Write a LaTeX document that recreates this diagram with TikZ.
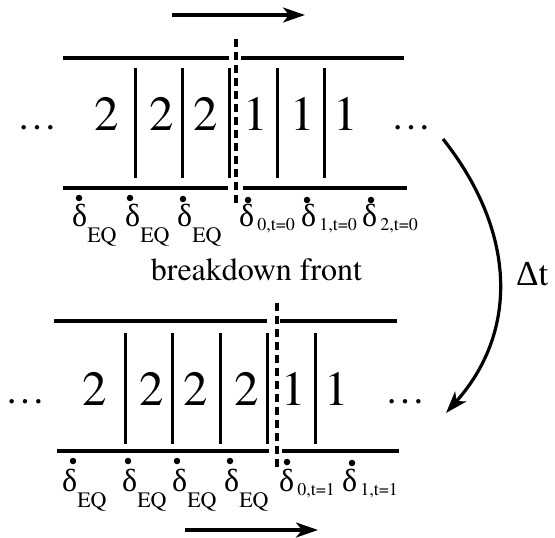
\documentclass[tikz,border=0pt]{standalone}
\usepackage{fontspec}
\setmainfont{TeX Gyre Termes}
\newfontfamily\tms{TeX Gyre Termes}
\newfontfamily\grk{Liberation Serif}
\usetikzlibrary{arrows.meta}
\begin{document}
\begin{tikzpicture}[x=1pt,y=-1pt,font=\tms,
  wall/.style={line width=3.2pt},
  sep/.style={line width=3pt},
  front/.style={line width=3.2pt,dash pattern=on 8pt off 5pt},
  mover/.style={line width=3.2pt,-{Stealth[length=22pt,width=15pt,inset=6pt]}},
  digit/.style={inner sep=0pt,anchor=base,font=\tms\fontsize{49}{49}\selectfont},
  ell/.style={inner sep=0pt,anchor=base,font=\tms\fontsize{40}{40}\selectfont},
  dlab/.style={inner sep=0pt,anchor=base west,font=\tms\fontsize{32}{32}\selectfont},
  bigtxt/.style={inner sep=0pt,font=\tms\fontsize{32}{32}\selectfont},
  dotm/.style={fill=black,draw=none,circle,inner sep=0pt,minimum size=6.5pt}
]
\useasboundingbox (0,0) rectangle (555,538);
\newcommand{\dlt}{{\grk δ}}
\newcommand{\EQsub}{{\fontsize{22}{22}\selectfont\raisebox{-16pt}{EQ}}}
\newcommand{\Tsub}[1]{{\fontsize{18}{18}\selectfont\raisebox{-4pt}{\,#1}}}

% ---------- upper panel ----------
\coordinate (uat) at (172,15); \coordinate (uah) at (305,15);
\draw[mover] (uat) -- (uah);
\coordinate (utl1) at (63,58);  \coordinate (utl2) at (229,58);
\coordinate (utr1) at (241,58); \coordinate (utr2) at (404,58);
\coordinate (ubl1) at (63,188); \coordinate (ubl2) at (228,188);
\coordinate (ubr1) at (243,188);\coordinate (ubr2) at (407,188);
\draw[wall] (utl1) -- (utl2) (utr1) -- (utr2) (ubl1) -- (ubl2) (ubr1) -- (ubr2);
\coordinate (ufa) at (236,39); \coordinate (ufb) at (236,204);
\draw[front] (ufa) -- (ufb);
\foreach \i/\x in {1/135,2/182,3/229,4/277,5/324}{
  \coordinate (us\i a) at (\x,68); \coordinate (us\i b) at (\x,178);
  \draw[sep] (us\i a) -- (us\i b);
}
\node[ell] (uell1) at (37.5,129) {…};
\node[ell] (uell2) at (411.5,129) {…};
\node[digit] (ud1) at (106.5,130) {2};
\node[digit] (ud2) at (161.5,130) {2};
\node[digit] (ud3) at (205.5,130) {2};
\node[digit] (ud4) at (256,130) {1};
\node[digit] (ud5) at (303,130) {1};
\node[digit] (ud6) at (346,130) {1};
\node[dotm] (ub1) at (79,198) {};
\node[dotm] (ub2) at (130,198) {};
\node[dotm] (ub3) at (183,199) {};
\node[dotm] (ub4) at (248,200) {};
\node[dotm] (ub5) at (307,200) {};
\node[dotm] (ub6) at (371,200) {};
\node[dlab] (ul1) at (72,226) {\dlt\EQsub};
\node[dlab] (ul2) at (125,226) {\dlt\EQsub};
\node[dlab] (ul3) at (177,226) {\dlt\EQsub};
\node[dlab] (ul4) at (239,226) {\dlt\Tsub{0,t=0}};
\node[dlab] (ul5) at (301,226) {\dlt\Tsub{1,t=0}};
\node[dlab] (ul6) at (362,226) {\dlt\Tsub{2,t=0}};

\node[bigtxt,anchor=base] (bf) at (256.5,280) {breakdown front};
\node[bigtxt,anchor=base west,font=\tms\fontsize{35}{35}\selectfont] (dt) at (516,285) {{\grk Δ}t};

% ---------- time step arrow ----------
\coordinate (ca) at (443,139); \coordinate (cb) at (446,413);
\draw[mover] (ca) .. controls (515,230) and (520,330) .. (cb);

% ---------- lower panel ----------
\coordinate (ltl1) at (54,321);  \coordinate (ltl2) at (267,321);
\coordinate (ltr1) at (280,321); \coordinate (ltr2) at (397,321);
\coordinate (lbl1) at (57,451);  \coordinate (lbl2) at (269,451);
\coordinate (lbr1) at (282,451); \coordinate (lbr2) at (399,451);
\draw[wall] (ltl1) -- (ltl2) (ltr1) -- (ltr2) (lbl1) -- (lbl2) (lbr1) -- (lbr2);
\coordinate (lfa) at (277,303); \coordinate (lfb) at (277,467);
\draw[front] (lfa) -- (lfb);
\foreach \i/\x in {1/125,2/172,3/220,4/267,5/315}{
  \coordinate (ls\i a) at (\x,333); \coordinate (ls\i b) at (\x,444);
  \draw[sep] (ls\i a) -- (ls\i b);
}
\node[ell] (lell1) at (25.5,403) {…};
\node[ell] (lell2) at (405.5,403) {…};
\node[digit] (ld1) at (94.5,405) {2};
\node[digit] (ld2) at (151.5,405) {2};
\node[digit] (ld3) at (195.5,405) {2};
\node[digit] (ld4) at (246.5,405) {2};
\node[digit] (ld5) at (293.5,405) {1};
\node[digit] (ld6) at (336.5,405) {1};
\node[dotm] (lb1) at (73,461) {};
\node[dotm] (lb2) at (128,461) {};
\node[dotm] (lb3) at (177,461) {};
\node[dotm] (lb4) at (230,461) {};
\node[dotm] (lb5) at (287,462) {};
\node[dotm] (lb6) at (352,463) {};
\node[dlab] (ll1) at (62,491) {\dlt\EQsub};
\node[dlab] (ll2) at (122,491) {\dlt\EQsub};
\node[dlab] (ll3) at (172,491) {\dlt\EQsub};
\node[dlab] (ll4) at (224,491) {\dlt\EQsub};
\node[dlab] (ll5) at (279,491) {\dlt\Tsub{0,t=1}};
\node[dlab] (ll6) at (342,491) {\dlt\Tsub{1,t=1}};

\coordinate (lat) at (185,530); \coordinate (lah) at (318,530);
\draw[mover] (lat) -- (lah);
\end{tikzpicture}
\end{document}
